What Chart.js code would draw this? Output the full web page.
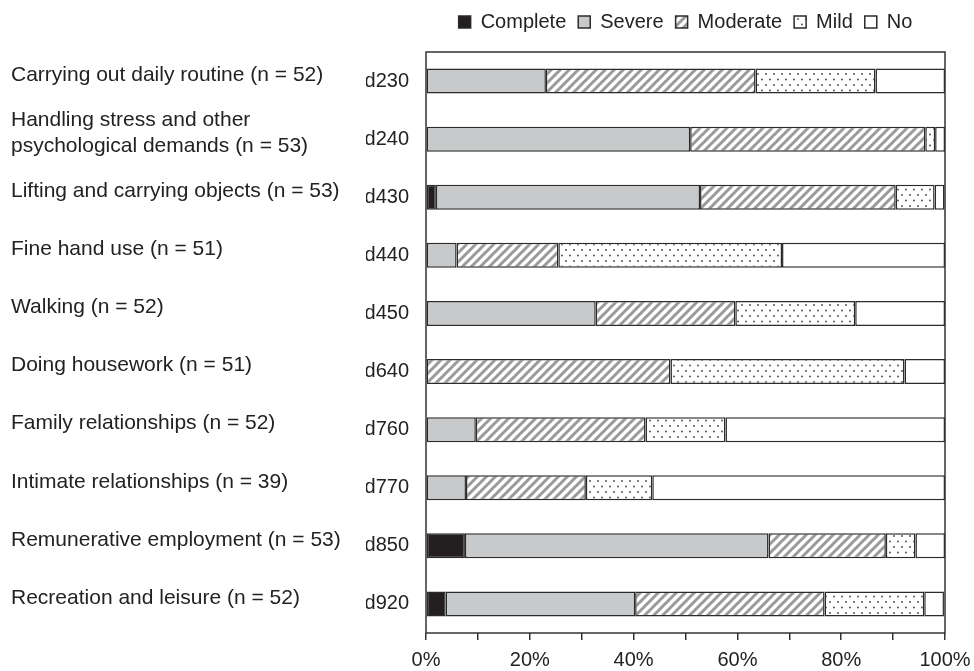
<!DOCTYPE html>
<html>
<head>
<meta charset="utf-8">
<script src="https://cdn.jsdelivr.net/npm/chart.js@4/dist/chart.umd.min.js"></script>
<style>
  html, body { margin: 0; padding: 0; background: #fff; }
  #wrap { width: 974px; height: 671px; }
</style>
</head>
<body>
<div id="wrap"><canvas id="chart"></canvas></div>
<script>
// data (percent of participants per ICF code)
const codes = ['d230', 'd240', 'd430', 'd440', 'd450', 'd640', 'd760', 'd770', 'd850', 'd920'];
const descriptions = [
    'Carrying out daily routine (n = 52)',
    ['Handling stress and other', 'psychological demands (n = 53)'],
    'Lifting and carrying objects (n = 53)',
    'Fine hand use (n = 51)',
    'Walking (n = 52)',
    'Doing housework (n = 51)',
    'Family relationships (n = 52)',
    'Intimate relationships (n = 39)',
    'Remunerative employment (n = 53)',
    'Recreation and leisure (n = 52)'
];
const complete = [0, 0, 1.9, 0, 0, 0, 0, 0, 7.5, 3.8];
const severe = [23.1, 50.9, 50.9, 5.9, 32.7, 0, 9.6, 7.7, 58.5, 36.5];
const moderate = [40.4, 45.3, 37.7, 19.6, 26.9, 47.1, 32.7, 23.1, 22.6, 36.5];
const mild = [23.1, 1.9, 7.5, 43.1, 23.1, 45.1, 15.4, 12.8, 5.7, 19.2];
const none = [13.4, 1.9, 1.9, 31.4, 17.3, 7.8, 42.3, 56.4, 5.7, 3.8];
const xTicks = [0, 20, 40, 60, 80, 100];

const FONT = 'Liberation Sans, Arial, Helvetica, sans-serif';

function hatchPattern() {
    const c = document.createElement('canvas');
    c.width = 9; c.height = 9;
    const g = c.getContext('2d');
    g.fillStyle = '#fff';
    g.fillRect(0, 0, 9, 9);
    g.strokeStyle = '#9a9a9a';
    g.lineWidth = 3;
    g.beginPath();
    g.moveTo(-2, 11); g.lineTo(11, -2);
    g.moveTo(-11, 11); g.lineTo(2, -2);
    g.moveTo(7, 11); g.lineTo(20, -2);
    g.stroke();
    return g.createPattern(c, 'repeat');
}

function dotPattern() {
    const c = document.createElement('canvas');
    c.width = 8; c.height = 11;
    const g = c.getContext('2d');
    g.fillStyle = '#fff';
    g.fillRect(0, 0, 8, 11);
    g.fillStyle = '#444';
    g.beginPath();
    g.arc(2, 2.5, 0.9, 0, Math.PI * 2);
    g.arc(6, 8, 0.9, 0, Math.PI * 2);
    g.fill();
    return g.createPattern(c, 'repeat');
}

// box round the plot area
const frame = {
    id: 'frame',
    afterDatasetsDraw(chart) {
        const a = chart.chartArea;
        const ctx = chart.ctx;
        ctx.save();
        ctx.strokeStyle = '#333';
        ctx.lineWidth = 1.5;
        ctx.strokeRect(a.left, a.top, a.right - a.left, a.bottom - a.top);
        ctx.restore();
    }
};

function ds(label, data, bg) {
    return {
        label: label,
        data: data,
        backgroundColor: bg,
        borderColor: '#2b2b2b',
        borderWidth: 1.5,
        borderSkipped: false,
        barPercentage: 0.43,
        categoryPercentage: 1
    };
}

new Chart(document.getElementById('chart'), {
    type: 'bar',
    data: {
        labels: codes,
        datasets: [
            ds('Complete', complete, '#231f20'),
            ds('Severe', severe, '#c8c9cb'),
            ds('Moderate', moderate, hatchPattern()),
            ds('Mild', mild, dotPattern()),
            ds('No', none, '#ffffff')
        ]
    },
    options: {
        indexAxis: 'y',
        responsive: true,
        maintainAspectRatio: false,
        animation: false,
        layout: { padding: { left: 11, right: 0, top: 0, bottom: 0 } },
        plugins: {
            legend: {
                position: 'top',
                fullSize: false,
                labels: {
                    font: { family: FONT, size: 20 },
                    color: '#222',
                    boxWidth: 12,
                    boxHeight: 12,
                    padding: 12
                }
            },
            tooltip: { enabled: false }
        },
        scales: {
            x: {
                stacked: true,
                min: 0,
                max: 100,
                ticks: {
                    stepSize: 10,
                    autoSkip: false,
                    maxRotation: 0,
                    padding: 8,
                    color: '#222',
                    font: { family: FONT, size: 20 },
                    callback: (v) => xTicks.includes(v) ? v + '%' : ''
                },
                grid: { drawOnChartArea: false, tickLength: 7, color: '#333', lineWidth: 1.5 },
                border: { display: false },
                afterFit: (axis) => {
                    axis.height = 38;
                    axis.paddingRight = 29;
                }
            },
            xTop: {
                position: 'top',
                display: true,
                ticks: { display: false },
                grid: { display: false },
                border: { display: false },
                afterFit: (axis) => { axis.height = 10; }
            },
            y: {
                stacked: true,
                offset: true,
                weight: 0,
                ticks: {
                    padding: 17,
                    color: '#222',
                    font: { family: FONT, size: 20 }
                },
                grid: { display: false, drawTicks: false },
                border: { display: false },
                afterFit: (axis) => { axis.width = 60; }
            },
            yd: {
                type: 'category',
                position: 'left',
                labels: descriptions,
                offset: true,
                weight: 1,
                ticks: {
                    crossAlign: 'far',
                    labelOffset: -6,
                    color: '#222',
                    font: { family: FONT, size: 21 }
                },
                grid: { display: false, drawTicks: false },
                border: { display: false },
                afterFit: (axis) => { axis.width = 355; }
            }
        }
    },
    plugins: [frame]
});
</script>
</body>
</html>
